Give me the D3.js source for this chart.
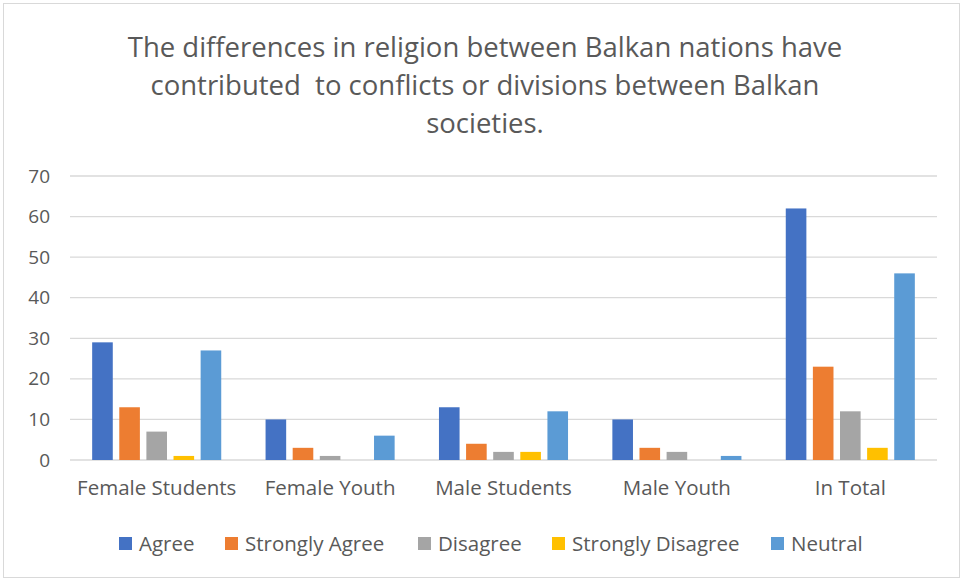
<!DOCTYPE html>
<html>
<head>
<meta charset="utf-8">
<script src="https://cdn.jsdelivr.net/npm/d3@7"></script>
<style>
  body { margin: 0; background: #fff; }
  text { font-family: "Open Sans", "Liberation Sans", sans-serif; fill: #595959; }
</style>
</head>
<body>
<svg id="chart" width="964" height="582"></svg>
<script>
var categories = ["Female Students", "Female Youth", "Male Students", "Male Youth", "In Total"]
var seriesNames = ["Agree", "Strongly Agree", "Disagree", "Strongly Disagree", "Neutral"]
var agree = [29, 10, 13, 10, 62]
var stronglyAgree = [13, 3, 4, 3, 23]
var disagree = [7, 1, 2, 2, 12]
var stronglyDisagree = [1, 0, 2, 0, 3]
var neutral = [27, 6, 12, 1, 46]
var yTicks = [0, 10, 20, 30, 40, 50, 60, 70]
var colors = ["#4472c4", "#ed7d31", "#a5a5a5", "#ffc000", "#5b9bd5"]
var titleLines = ["The differences in religion between Balkan nations have",
                  "contributed  to conflicts or divisions between Balkan",
                  "societies."]

var seriesValues = [agree, stronglyAgree, disagree, stronglyDisagree, neutral]

var svg = d3.select("#chart"),
    margin = {top: 176, right: 27, bottom: 122, left: 70},
    width  = +svg.attr("width")  - margin.left - margin.right,
    height = +svg.attr("height") - margin.top  - margin.bottom;

// chart border
svg.append("rect")
  .attr("x", 3.5).attr("y", 3.5)
  .attr("width", 956).attr("height", 574)
  .attr("fill", "none")
  .attr("stroke", "#d9d9d9");

// title
svg.append("g").selectAll("text")
  .data(titleLines)
  .enter().append("text")
    .attr("x", 485)
    .attr("y", function(d, i) { return 57 + i * 38; })
    .attr("text-anchor", "middle")
    .attr("xml:space", "preserve")
    .style("white-space", "pre")
    .style("font-size", "27.5px")
    .text(function(d) { return d; });

var x0 = d3.scaleBand().domain(categories).range([0, width]).paddingInner(0.24).paddingOuter(0.12);
var x1 = d3.scaleBand().domain(seriesNames).range([0, x0.bandwidth()]).paddingInner(0.24).paddingOuter(0.05);
var y = d3.scaleLinear().domain([0, 70]).range([height, 0]);

var focus = svg.append("g")
  .attr("transform", "translate(" + margin.left + "," + margin.top + ")");

// gridlines
focus.append("g").selectAll("line")
  .data(yTicks)
  .enter().append("line")
    .attr("x1", 0).attr("x2", width)
    .attr("y1", function(d) { return y(d); })
    .attr("y2", function(d) { return y(d); })
    .attr("stroke", "#d9d9d9")
    .attr("stroke-width", 1.3);

// y axis labels
var yAxis = d3.axisLeft(y).tickValues(yTicks).tickSize(0).tickPadding(20);
focus.append("g")
  .call(yAxis)
  .call(function(g) { g.select(".domain").remove(); })
  .selectAll("text")
    .style("font-size", "19px")
    .attr("fill", "#595959");

// x axis labels
var xAxis = d3.axisBottom(x0).tickSize(0).tickPadding(20);
focus.append("g")
  .attr("transform", "translate(0," + height + ")")
  .call(xAxis)
  .call(function(g) { g.select(".domain").remove(); })
  .selectAll("text")
    .style("font-size", "20.5px")
    .attr("fill", "#595959");
focus.selectAll(".tick").attr("font-family", null);

// bars
var groups = focus.selectAll(".group")
  .data(categories)
  .enter().append("g")
    .attr("class", "group")
    .attr("transform", function(d) { return "translate(" + x0(d) + ",0)"; });

groups.selectAll("rect")
  .data(function(d, ci) {
    return seriesNames.map(function(s, si) { return {series: s, value: seriesValues[si][ci], color: colors[si]}; });
  })
  .enter().append("rect")
    .attr("x", function(d) { return x1(d.series); })
    .attr("y", function(d) { return y(d.value); })
    .attr("width", x1.bandwidth())
    .attr("height", function(d) { return height - y(d.value); })
    .attr("fill", function(d) { return d.color; });

// legend
var legendX = [119, 225, 418, 552, 771];
var legend = svg.append("g").attr("transform", "translate(0,544)");
var items = legend.selectAll("g")
  .data(seriesNames)
  .enter().append("g")
    .attr("transform", function(d, i) { return "translate(" + legendX[i] + ",0)"; });
items.append("rect")
  .attr("x", 0).attr("y", -7)
  .attr("width", 13).attr("height", 13)
  .attr("fill", function(d, i) { return colors[i]; });
items.append("text")
  .attr("x", 20).attr("y", 7)
  .style("font-size", "20.5px")
  .text(function(d) { return d; });
</script>
</body>
</html>
